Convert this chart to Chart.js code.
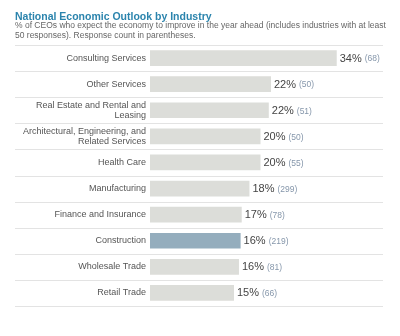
<!DOCTYPE html>
<html>
<head>
<meta charset="utf-8">
<script src="https://cdn.jsdelivr.net/npm/chart.js@4.4.1/dist/chart.umd.min.js"></script>
<style>
  html, body { margin: 0; padding: 0; background: #ffffff; }
  #wrap { position: relative; width: 400px; height: 336px; overflow: hidden; }
  #title {
    position: absolute; left: 15px; top: 10px;
    font: bold 10.5px/12px "Liberation Sans", Arial, sans-serif;
    color: #2b84ad; white-space: nowrap;
  }
  #subtitle {
    position: absolute; left: 15px; top: 19.5px;
    font: 8.5px/10px "Liberation Sans", Arial, sans-serif;
    color: #666666; white-space: nowrap;
  }
  canvas { position: absolute; left: 0; top: 0; }
</style>
</head>
<body>
<div id="wrap">
  <canvas id="chart" width="400" height="336"></canvas>
  <div id="title">National Economic Outlook by Industry</div>
  <div id="subtitle">% of CEOs who expect the economy to improve in the year ahead (includes industries with at least<br>50 responses). Response count in parentheses.</div>
</div>
<script>
// Industries, top to bottom
const industries = [
  'Consulting Services',
  'Other Services',
  ['Real Estate and Rental and', 'Leasing'],
  ['Architectural, Engineering, and', 'Related Services'],
  'Health Care',
  'Manufacturing',
  'Finance and Insurance',
  'Construction',
  'Wholesale Trade',
  'Retail Trade'
];
// Share of CEOs expecting the economy to improve (%)
const improvePct = [33.8, 21.9, 21.5, 20.0, 20.0, 18.0, 16.6, 16.4, 16.1, 15.2];
// Number of responses per industry
const responseCounts = [68, 50, 51, 50, 55, 299, 78, 219, 81, 66];
// Industry shown in the accent colour
const highlighted = 'Construction';

const FONT = '"Liberation Sans", Arial, sans-serif';
const barColors = industries.map(l => l === highlighted ? '#94adbd' : '#dcddd9');

// Thin separators between the rows, running under the labels as well
const rowRules = {
  id: 'rowRules',
  beforeDatasetsDraw(chart) {
    const { ctx, chartArea } = chart;
    const n = industries.length;
    const step = (chartArea.bottom - chartArea.top) / n;
    ctx.save();
    ctx.strokeStyle = '#e3e3e3';
    ctx.lineWidth = 1;
    for (let i = 0; i <= n; i++) {
      const y = Math.round(chartArea.top + i * step) + 0.5;
      ctx.beginPath();
      ctx.moveTo(15, y);
      ctx.lineTo(383, y);
      ctx.stroke();
    }
    ctx.restore();
  }
};

// "34% (68)" style labels at the end of each bar
const valueLabels = {
  id: 'valueLabels',
  afterDatasetsDraw(chart) {
    const { ctx } = chart;
    const meta = chart.getDatasetMeta(0);
    ctx.save();
    ctx.textBaseline = 'middle';
    ctx.textAlign = 'left';
    meta.data.forEach((bar, i) => {
      const pct = Math.round(improvePct[i]) + '%';
      const x = bar.x + 3;
      const y = bar.y + 0.5;
      ctx.font = '11px ' + FONT;
      ctx.fillStyle = '#444444';
      ctx.fillText(pct, x, y);
      const w = ctx.measureText(pct).width;
      ctx.font = '8.5px ' + FONT;
      ctx.fillStyle = '#8697ab';
      ctx.fillText('(' + responseCounts[i] + ')', x + w + 3, y + 0.5);
    });
    ctx.restore();
  }
};

new Chart(document.getElementById('chart'), {
  type: 'bar',
  data: {
    labels: industries,
    datasets: [{
      data: improvePct,
      backgroundColor: barColors,
      borderWidth: 0,
      barPercentage: 0.6,
      categoryPercentage: 1.0
    }]
  },
  options: {
    indexAxis: 'y',
    responsive: false,
    animation: false,
    devicePixelRatio: 1,
    layout: { padding: { left: 15, right: 29, top: 45, bottom: 30 } },
    plugins: {
      legend: { display: false },
      tooltip: { enabled: false },
      title: { display: false }
    },
    scales: {
      x: { display: false, min: 0, max: 40 },
      y: {
        grid: { display: false, drawTicks: false },
        border: { display: false },
        ticks: {
          color: '#555555',
          padding: 4,
          font: { family: FONT, size: 9, lineHeight: 1.12 }
        },
        afterFit(scale) { scale.width = 135; }
      }
    }
  },
  plugins: [rowRules, valueLabels]
});
</script>
</body>
</html>
